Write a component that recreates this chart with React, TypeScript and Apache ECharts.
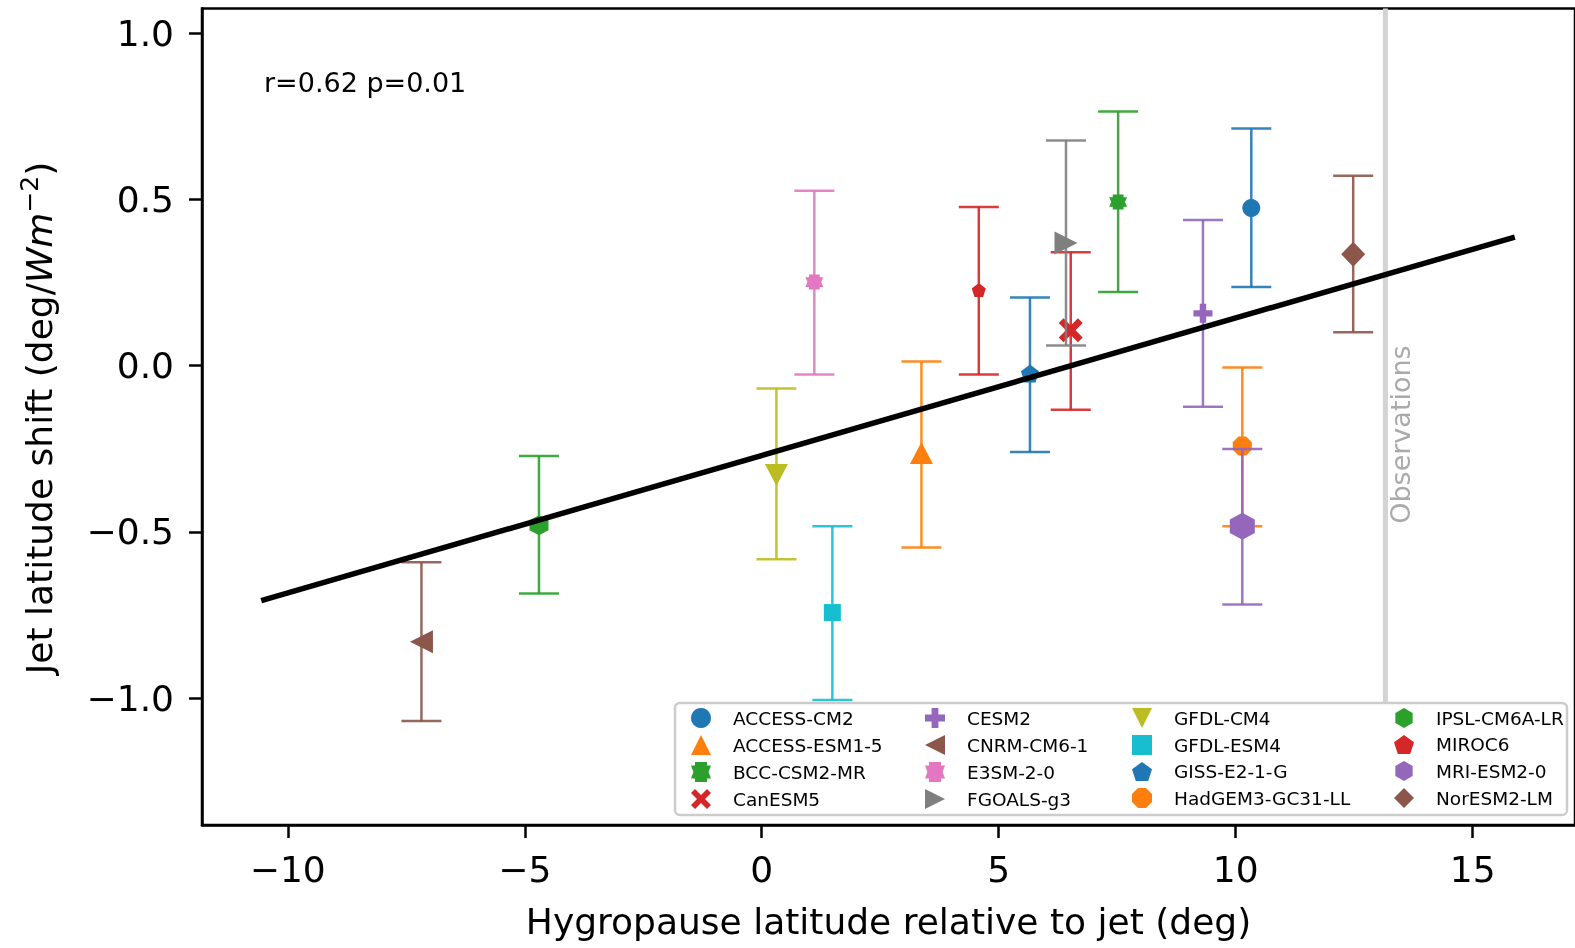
import React, { useEffect, useRef } from "react";
import * as echarts from "echarts";

// ---------------- data ----------------
const MODELS = [
  "ACCESS-CM2", "ACCESS-ESM1-5", "BCC-CSM2-MR", "CanESM5",
  "CESM2", "CNRM-CM6-1", "E3SM-2-0", "FGOALS-g3",
  "GFDL-CM4", "GFDL-ESM4", "GISS-E2-1-G", "HadGEM3-GC31-LL",
  "IPSL-CM6A-LR", "MIROC6", "MRI-ESM2-0", "NorESM2-LM",
];
const HYGRO_X = [10.33, 3.37, 7.52, 6.52, 9.31, -7.18, 1.11, 6.42, 0.31, 1.49, 5.66, 10.14, -4.70, 4.58, 10.14, 12.48];
const JET_Y = [0.474, -0.263, 0.492, 0.106, 0.157, -0.831, 0.251, 0.369, -0.329, -0.743, -0.024, -0.242, -0.480, 0.227, -0.483, 0.335];
const ERR_LO = [0.236, -0.547, 0.221, -0.133, -0.124, -1.069, -0.027, 0.060, -0.583, -1.006, -0.260, -0.483, -0.686, -0.027, -0.719, 0.100];
const ERR_HI = [0.713, 0.012, 0.764, 0.341, 0.438, -0.592, 0.526, 0.677, -0.069, -0.483, 0.205, -0.006, -0.272, 0.477, -0.251, 0.571];

const REG_X = [-10.56, 15.89];
const REG_Y = [-0.707, 0.3865];
const OBS_X = 13.16;
const OBS_LABEL_Y = -0.476;

const X_TICKS = [-10, -5, 0, 5, 10, 15];
const Y_TICKS = [-1.0, -0.5, 0.0, 0.5, 1.0];
const X_RANGE = [-11.81, 17.16];
const Y_RANGE = [-1.382, 1.074];

const STATS_TEXT = "r=0.62 p=0.01";
const X_TITLE = "Hygropause latitude relative to jet (deg)";
const OBS_TEXT = "Observations";

// ---------------- styles ----------------
const TAB10 = ["#1f77b4", "#ff7f0e", "#2ca02c", "#d62728", "#9467bd", "#8c564b", "#e377c2", "#7f7f7f", "#bcbd22", "#17becf"];
const NOTCHED = "path://M20,0 L80,0 L80,18 L100,18 L88,50 L100,82 L80,82 L80,100 L20,100 L20,82 L0,82 L12,50 L0,18 L20,18 Z";
const HEX = "path://M50,0 L93.3,25 L93.3,75 L50,100 L6.7,75 L6.7,25 Z";
const OCT = "path://M30,0 L70,0 L100,30 L100,70 L70,100 L30,100 L0,70 L0,30 Z";
const PENT = "path://M50,0 L100,36 L81,95 L19,95 L0,36 Z";
const XMARK = "path://M0,20 L20,0 L50,30 L80,0 L100,20 L70,50 L100,80 L80,100 L50,70 L20,100 L0,80 L30,50 Z";
const PLUS = "path://M33,0 L67,0 L67,33 L100,33 L100,67 L67,67 L67,100 L33,100 L33,67 L0,67 L0,33 L33,33 Z";
const TRI_UP = "path://M50,0 L100,100 L0,100 Z";
const TRI_DOWN = "path://M0,0 L100,0 L50,100 Z";
const TRI_LEFT = "path://M0,50 L100,0 L100,100 Z";
const TRI_RIGHT = "path://M0,0 L100,50 L0,100 Z";
const DIAMOND = "path://M50,0 L100,50 L50,100 L0,50 Z";

const SYMBOLS = ["circle", TRI_UP, NOTCHED, XMARK, PLUS, TRI_LEFT, NOTCHED, TRI_RIGHT, TRI_DOWN, "rect", PENT, OCT, HEX, PENT, HEX, DIAMOND];
const SIZES: number[][] = [
  [18, 18], [23, 22], [18, 15], [24, 24], [19, 19], [23, 23], [18, 15], [23, 23],
  [23, 22], [17, 17], [18, 18], [19, 19], [19, 20], [14, 14], [25, 27], [24, 25],
];

const FONT = "DejaVu Sans";
const LEGEND_BOX = { x: 675, y: 703, width: 892, height: 112 };

export default function App() {
  const ref = useRef<HTMLDivElement>(null);

  useEffect(() => {
    if (!ref.current) return;
    const chart = echarts.init(ref.current, null, { renderer: "svg" });

    const series: any[] = [];

    // observation line (the legend box hides its lower part)
    series.push({
      type: "custom",
      name: "observations",
      z: 1,
      silent: true,
      clip: false,
      data: [[OBS_X, Y_RANGE[1]]],
      encode: { x: 0, y: 1 },
      renderItem: (params: any, api: any) => {
        const top = api.coord([api.value(0), api.value(1)]);
        return {
          type: "line",
          shape: { x1: top[0], y1: top[1], x2: top[0], y2: LEGEND_BOX.y },
          style: { stroke: "#d3d3d3", lineWidth: 5 },
        };
      },
    });

    MODELS.forEach((name, i) => {
      const color = TAB10[i % 10];
      series.push({
        type: "custom",
        name: name + " error",
        z: 2 + 2 * i,
        silent: true,
        data: [[HYGRO_X[i], ERR_LO[i], ERR_HI[i]]],
        encode: { x: 0, y: [1, 2] },
        renderItem: (params: any, api: any) => {
          const x = api.value(0);
          const lo = api.coord([x, api.value(1)]);
          const hi = api.coord([x, api.value(2)]);
          const cap = 20;
          const style = { stroke: color, lineWidth: 2.5, opacity: 0.9 };
          return {
            type: "group",
            children: [
              { type: "line", shape: { x1: lo[0], y1: lo[1], x2: hi[0], y2: hi[1] }, style },
              { type: "line", shape: { x1: lo[0] - cap, y1: lo[1], x2: lo[0] + cap, y2: lo[1] }, style },
              { type: "line", shape: { x1: hi[0] - cap, y1: hi[1], x2: hi[0] + cap, y2: hi[1] }, style },
            ],
          };
        },
      });
      series.push({
        type: "scatter",
        name,
        z: 3 + 2 * i,
        symbol: SYMBOLS[i],
        symbolSize: SIZES[i],
        itemStyle: { color, opacity: 1 },
        data: [[HYGRO_X[i], JET_Y[i]]],
      });
    });

    series.push({
      type: "line",
      name: "regression",
      z: 40,
      silent: true,
      symbol: "none",
      lineStyle: { color: "#000", width: 5.5 },
      data: REG_X.map((x, k) => [x, REG_Y[k]]),
    });

    const legendCols = [0, 1, 2, 3].map((c) => MODELS.slice(c * 4, c * 4 + 4));
    const colIconX = [701, 935, 1142, 1404];
    const legends = legendCols.map((names, c) => ({
      orient: "vertical",
      left: colIconX[c] - 10,
      top: 708,
      padding: 0,
      itemWidth: 20,
      itemHeight: 20,
      itemGap: 7,
      z: 60,
      selectedMode: false,
      data: names,
      textStyle: { fontFamily: FONT, fontSize: 18.5, color: "#000", padding: [0, 0, 0, 17] },
    }));

    const yTitleRich = {
      a: { fontFamily: FONT, fontSize: 36, fill: "#000", lineHeight: 44 },
      i: { fontFamily: FONT, fontSize: 36, fontStyle: "italic", fill: "#000", lineHeight: 44 },
      s: { fontFamily: FONT, fontSize: 25, fill: "#000", lineHeight: 26, verticalAlign: "top" },
    };

    chart.setOption({
      animation: false,
      textStyle: { fontFamily: FONT },
      grid: {
        left: 202, right: -3, top: 8.5, bottom: 123,
        show: true, borderColor: "#000", borderWidth: 2.5, backgroundColor: "transparent",
      },
      xAxis: {
        type: "value",
        min: X_RANGE[0],
        max: X_RANGE[1],
        axisLine: { show: true, onZero: false, lineStyle: { color: "#000", width: 2.5 } },
        axisTick: { show: true, customValues: X_TICKS, length: 13, lineStyle: { color: "#000", width: 2.5 } },
        axisLabel: {
          customValues: X_TICKS,
          fontSize: 36, color: "#000", margin: 26, fontFamily: FONT,
          formatter: (v: number) => (v < 0 ? "\u2212" : "") + Math.abs(v).toString(),
        },
        splitLine: { show: false },
        name: X_TITLE,
        nameLocation: "middle",
        nameGap: 78,
        nameTextStyle: { fontSize: 36, color: "#000", fontFamily: FONT },
      },
      yAxis: {
        type: "value",
        min: Y_RANGE[0],
        max: Y_RANGE[1],
        axisLine: { show: true, onZero: false, lineStyle: { color: "#000", width: 2.5 } },
        axisTick: { show: true, customValues: Y_TICKS, length: 13, lineStyle: { color: "#000", width: 2.5 } },
        axisLabel: {
          customValues: Y_TICKS,
          fontSize: 36, color: "#000", margin: 28, fontFamily: FONT,
          formatter: (v: number) => (v < 0 ? "\u2212" : "") + Math.abs(v).toFixed(1),
        },
        splitLine: { show: false },
      },
      legend: legends,
      series,
      graphic: [
        {
          type: "rect",
          z: 50,
          shape: { ...LEGEND_BOX, r: 5 },
          style: { fill: "rgba(255,255,255,0.9)", stroke: "#cccccc", lineWidth: 2.5 },
        },
        {
          type: "text",
          z: 50,
          x: 264,
          y: 82,
          style: { text: STATS_TEXT, fontFamily: FONT, fontSize: 27, fill: "#000", align: "left", verticalAlign: "middle" },
        },
        {
          type: "text",
          z: 50,
          x: 39,
          y: 418,
          rotation: Math.PI / 2,
          style: {
            text: "{a|Jet latitude shift (deg/}{i|Wm}{s|\u22122}{a|)}",
            rich: yTitleRich,
            align: "center",
            verticalAlign: "middle",
          },
        },
      ],
    });

    const p = chart.convertToPixel({ gridIndex: 0 }, [OBS_X, OBS_LABEL_Y]) as number[];
    chart.setOption({
      graphic: [
        {
          type: "text",
          id: "obsLabel",
          z: 45,
          x: p[0] + 15,
          y: p[1],
          rotation: Math.PI / 2,
          style: { text: OBS_TEXT, fontFamily: FONT, fontSize: 27, fill: "#aaaaaa", align: "left", verticalAlign: "middle" },
        },
      ],
    });

    return () => chart.dispose();
  }, []);

  return <div ref={ref} style={{ position: "fixed", left: 0, top: 0, width: 1575, height: 948 }} />;
}
